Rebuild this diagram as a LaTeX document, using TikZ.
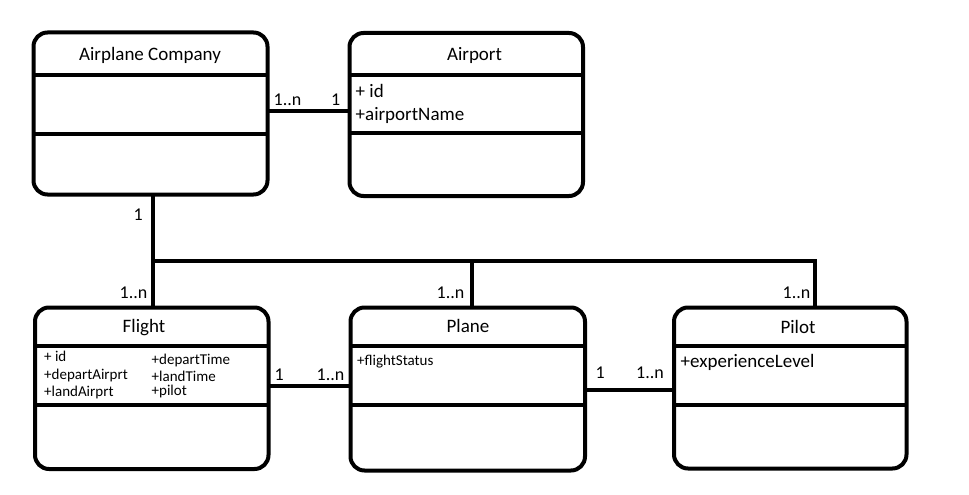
\documentclass[tikz,border=0pt]{standalone}
\usepackage{fontspec}
\setmainfont{Carlito}
\begin{document}
\begin{tikzpicture}[x=1pt,y=-1pt,
  cls/.style={draw, line width=4pt, rounded corners=14pt, rectangle, inner sep=0pt, outer sep=0pt, anchor=north west},
  rule/.style={line width=4pt},
  conn/.style={line width=4pt},
  head/.style={font=\fontsize{19}{22}\selectfont, anchor=base, inner sep=0pt},
  attr/.style={font=\fontsize{19}{22}\selectfont, anchor=base west, inner sep=0pt},
  sattr/.style={font=\fontsize{15}{18}\selectfont, anchor=base west, inner sep=0pt},
  mult/.style={font=\fontsize{18}{21}\selectfont, anchor=base west, inner sep=0pt}]
\useasboundingbox (0,0) rectangle (969,495);

% class boxes
\node[cls, minimum width=234pt, minimum height=162pt] (ac) at (33.5,32.5) {};
\node[cls, minimum width=233.5pt, minimum height=163pt] (ap) at (349.5,33) {};
\node[cls, minimum width=233.5pt, minimum height=161.5pt] (fl) at (35,307.5) {};
\node[cls, minimum width=234.5pt, minimum height=163pt] (pl) at (350.5,307.5) {};
\node[cls, minimum width=232.5pt, minimum height=161pt] (pi) at (674,307.5) {};

% compartment dividers
\draw[rule] (ac.west |- 0,75.5) -- (ac.east |- 0,75.5);
\draw[rule] (ac.west |- 0,133.5) -- (ac.east |- 0,133.5);
\draw[rule] (ap.west |- 0,75.5) -- (ap.east |- 0,75.5);
\draw[rule] (ap.west |- 0,133) -- (ap.east |- 0,133);
\draw[rule] (fl.west |- 0,346) -- (fl.east |- 0,346);
\draw[rule] (fl.west |- 0,404.5) -- (fl.east |- 0,404.5);
\draw[rule] (pl.west |- 0,346) -- (pl.east |- 0,346);
\draw[rule] (pl.west |- 0,404.5) -- (pl.east |- 0,404.5);
\draw[rule] (pi.west |- 0,346) -- (pi.east |- 0,346);
\draw[rule] (pi.west |- 0,404.5) -- (pi.east |- 0,404.5);

% titles
\node[head] (tac) at (150,61) {Airplane Company};
\node[head] (tap) at (474.5,61) {Airport};
\node[head] (tfl) at (144,332) {Flight};
\node[head] (tpl) at (468,332) {Plane};
\node[head] (tpi) at (798,333) {Pilot};

% attributes
\node[attr] (apid) at (355.5,97) {+ id};
\node[attr] (apname) at (355.5,120.5) {+airportName};
\node[sattr] (flid) at (44,361) {+ id};
\node[sattr] (fldep) at (44,379) {+departAirprt};
\node[sattr] (flland) at (44,396.5) {+landAirprt};
\node[sattr] (fldt) at (151.5,364) {+departTime};
\node[sattr] (fllt) at (151.5,381.5) {+landTime};
\node[sattr] (flpil) at (151.5,395) {+pilot};
\node[sattr] (plfs) at (357,365) {+flightStatus};
\node[attr] (piexp) at (680.5,367) {+experienceLevel};

% connectors
\coordinate (jl) at (152.5,260.5);
\coordinate (jm) at (472,260.5);
\coordinate (jr) at (815,260.5);
\draw[conn] (ac.east |- 0,110.5) -- (ap.west |- 0,110.5);
\draw[conn] (ac.south -| jl) -- (fl.north -| jl);
\draw[conn] (jl) -- (jr) -- (pi.north -| jr);
\draw[conn] (jm) -- (pl.north -| jm);
\draw[conn] (fl.east |- 0,386) -- (pl.west |- 0,386);
\draw[conn] (pl.east |- 0,389.5) -- (pi.west |- 0,389.5);

% multiplicities
\node[mult] (m1) at (273.5,106) {1..n};
\node[mult] (m2) at (331,106) {1};
\node[mult] (m3) at (133.5,220) {1};
\node[mult] (m4) at (119.5,298) {1..n};
\node[mult] (m5) at (436.5,298) {1..n};
\node[mult] (m6) at (782.5,298) {1..n};
\node[mult] (m7) at (274.5,380) {1};
\node[mult] (m8) at (316.5,380) {1..n};
\node[mult] (m9) at (595.5,378.5) {1};
\node[mult] (m10) at (636,378.5) {1..n};
\end{tikzpicture}
\end{document}
